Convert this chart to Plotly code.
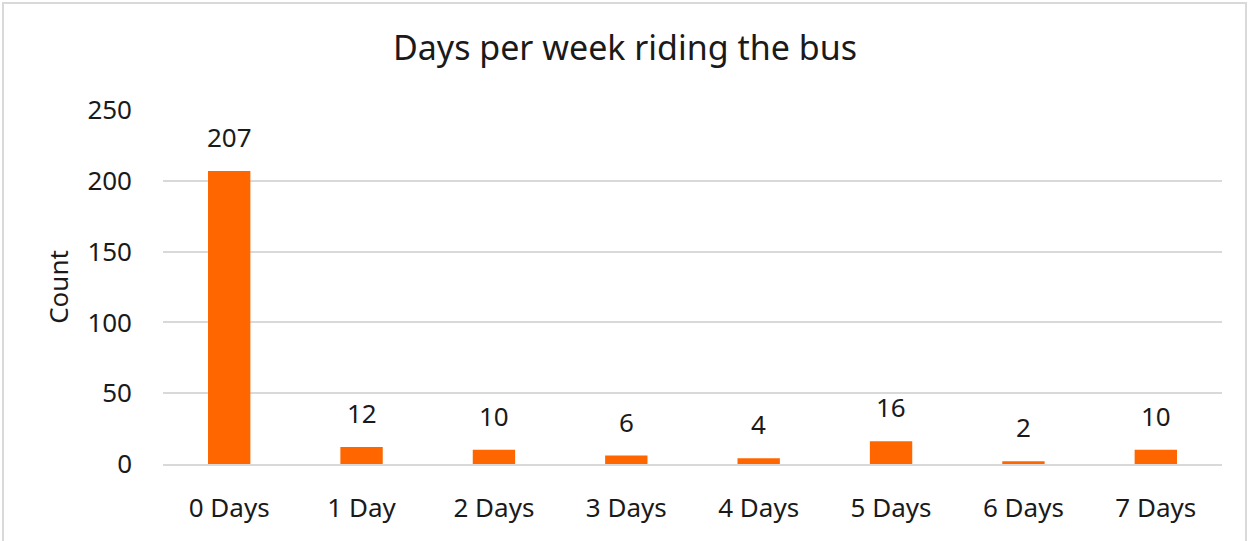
import plotly.graph_objects as go

categories = ["0 Days", "1 Day", "2 Days", "3 Days", "4 Days", "5 Days", "6 Days", "7 Days"]
counts = [207, 12, 10, 6, 4, 16, 2, 10]
y_ticks = [0, 50, 100, 150, 200, 250]

W, H = 1250, 541
ml, mr, mt, mb = 163, 28, 110, 77
pw, ph = W - ml - mr, H - mt - mb
font = "Noto Sans, Lato, sans-serif"
txt = "#1a1a1a"

fig = go.Figure(go.Bar(
    x=categories, y=counts, marker_color="#FF6600", marker_line_width=0,
    hoverinfo="skip",
))
for c, v in zip(categories, counts):
    fig.add_annotation(x=c, y=v, text=str(v), showarrow=False, yanchor="bottom",
                       yshift=14, font=dict(size=26, color=txt))

fig.update_layout(
    width=W, height=H, margin=dict(l=ml, r=mr, t=mt, b=mb),
    paper_bgcolor="white", plot_bgcolor="white",
    font=dict(family=font, size=26, color=txt),
    bargap=0.68, showlegend=False,
    title=dict(text="Days per week riding the bus", x=0.5, xanchor="center",
               y=1 - 48 / H, yanchor="middle", font=dict(size=34, color=txt)),
    xaxis=dict(showgrid=False, showline=True, linecolor="#D9D9D9", linewidth=2,
               ticks="", tickfont=dict(size=26), ticklabelstandoff=20),
    yaxis=dict(range=[0, 250], tickvals=y_ticks, showgrid=True, gridcolor="#D9D9D9",
               gridwidth=2, zeroline=False, ticks="", tickfont=dict(size=26),
               ticklabelstandoff=30,
               title=dict(text="Count", font=dict(size=26), standoff=11)),
)
fig.add_shape(type="rect", xref="paper", yref="paper",
              x0=(3 - ml) / pw, x1=(1246 - ml) / pw,
              y0=(H - mb - 560) / ph, y1=(H - mb - 3) / ph,
              line=dict(color="#D9D9D9", width=2), fillcolor="rgba(0,0,0,0)", layer="below")
fig.write_html("out.html", config={"displayModeBar": False},
               post_script="document.body.style.margin='0';")
